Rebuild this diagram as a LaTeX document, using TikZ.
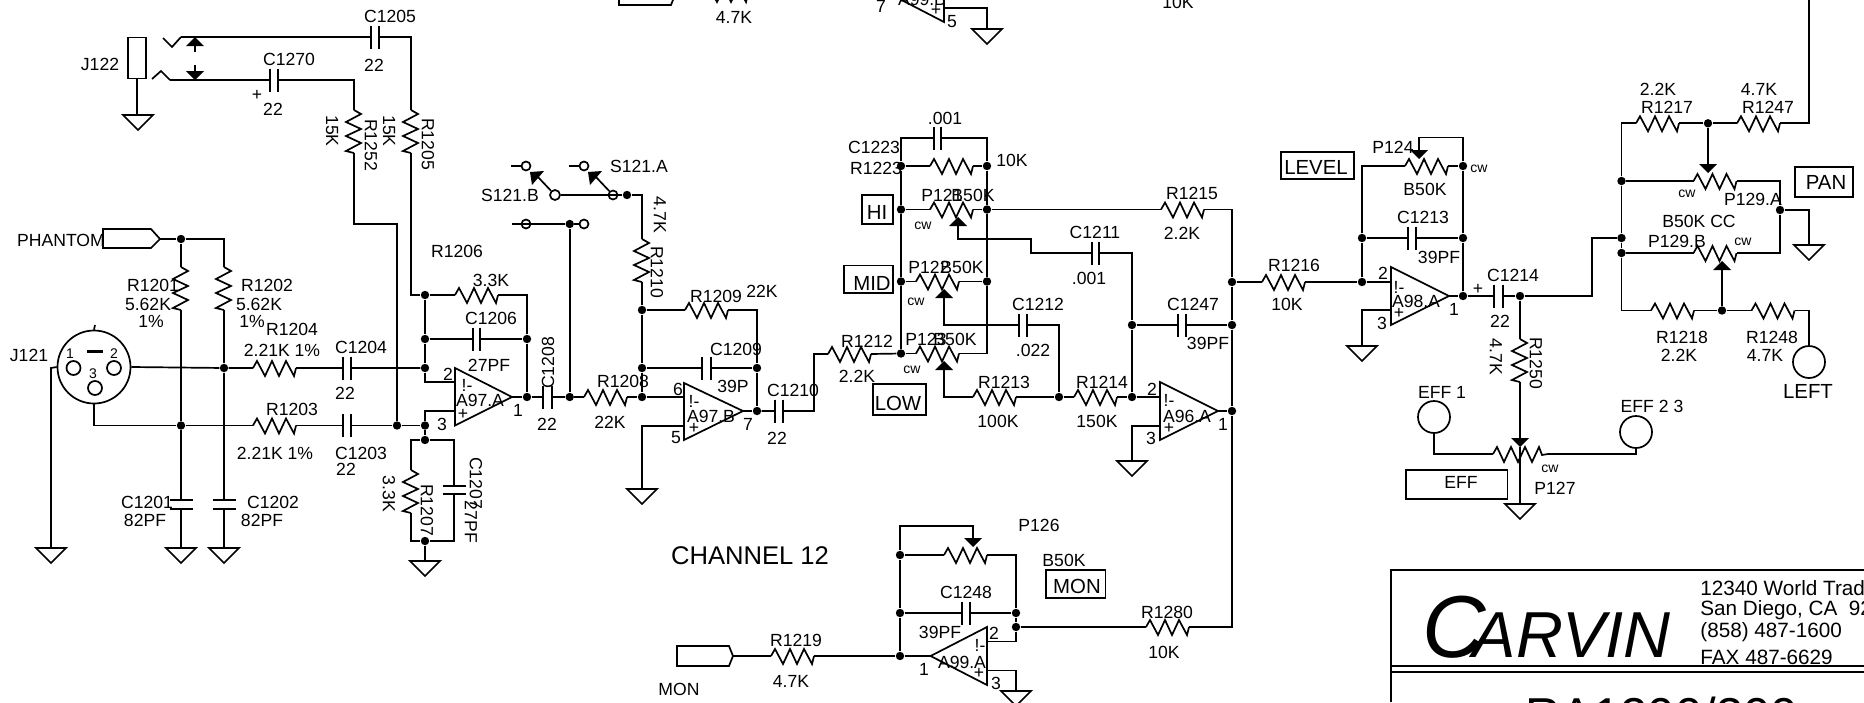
\documentclass[tikz,border=0pt]{standalone}
\usepackage{fontspec}
\setmainfont{Liberation Sans}
\newcounter{tc}
\tikzset{
  x=0.5pt,y=-0.5pt,
  wire/.style={line width=0.85pt,line join=miter},
  jdot/.style={circle,fill=black,draw=none,inner sep=0pt,minimum size=4.2pt},
  opencirc/.style={circle,draw=black,fill=white,line width=0.85pt,inner sep=0pt,minimum size=#1},
  lab/.style={inner sep=0pt,font=\fontsize{8.8}{10}\selectfont},
  smalllab/.style={inner sep=0pt,font=\fontsize{7}{8}\selectfont},
  biglab/.style={inner sep=0pt,font=\fontsize{10.2}{12}\selectfont},
  boxtag/.style={draw=black,line width=0.85pt,inner sep=0pt,anchor=north west},
  opampbody/.style={wire,fill=none},
}
% junction dot
\newcommand\J[3]{\node[jdot] (#1) at (#2,#3) {};}
% label: position, text, extra options
\newcommand\T[4][lab]{\stepcounter{tc}\node[#1] (t\arabic{tc}) at (#2,#3) {#4};}
\newcommand\TR[3]{\stepcounter{tc}\node[lab,rotate=-90] (t\arabic{tc}) at (#1,#2) {#3};}
\newcommand\TL[3]{\stepcounter{tc}\node[lab,rotate=90] (t\arabic{tc}) at (#1,#2) {#3};}
% horizontal resistor: name, left x, y
\newcommand\Rh[3]{\coordinate (#1-a) at (#2,#3);\coordinate (#1-b) at ([xshift=21.5pt]#1-a);
  \draw[wire] (#1-a) -- ++(4,-7) -- ++(8,15) -- ++(7,-15) -- ++(7,15) -- ++(7,-15) -- ++(8,15) -- (#1-b);}
% vertical resistor: name, x, top y
\newcommand\Rv[3]{\coordinate (#1-a) at (#2,#3);\coordinate (#1-b) at ([yshift=-21.5pt]#1-a);
  \draw[wire] (#1-a) -- ++(7,4) -- ++(-15,8) -- ++(15,7) -- ++(-15,7) -- ++(15,7) -- ++(-15,8) -- (#1-b);}
% horizontal-run capacitor: name, x1, x2, y
\newcommand\Ch[4]{\coordinate (#1-a) at (#2,#4);\coordinate (#1-b) at (#3,#4);
  \draw[wire] (#2,#4-11.5) -- (#2,#4+11.5) (#3,#4-11.5) -- (#3,#4+11.5);}
% vertical-run capacitor: name, x, y1, y2, half length
\newcommand\Cv[5]{\coordinate (#1-a) at (#2,#3);\coordinate (#1-b) at (#2,#4);
  \draw[wire] (#2-#5,#3) -- (#2+#5,#3) (#2-#5,#4) -- (#2+#5,#4);}
% ground: name, x, top y
\newcommand\G[3]{\coordinate (#1) at (#2,#3);
  \draw[wire] (#2-15,#3) -- (#2+15,#3) -- (#2,#3+15) -- cycle;}
% wiper triangles: name (base), x, tip y
\newcommand\WU[3]{\coordinate (#1) at (#2,#3+9);\fill (#2,#3) -- (#2+9,#3+9) -- (#2-9,#3+9) -- cycle;}
\newcommand\WD[3]{\coordinate (#1) at (#2,#3-9);\fill (#2,#3) -- (#2+9,#3-9) -- (#2-9,#3-9) -- cycle;}
\begin{document}
\begin{tikzpicture}
\path[use as bounding box] (0,0) rectangle (1864,702);
\clip (0,0) rectangle (1864,702);
\fill[white] (0,0) rectangle (1864,702);

%%% J122 jack
\node[draw=black,line width=0.85pt,minimum width=9pt,minimum height=20.5pt,inner sep=0pt] (J122) at (137,58) {};
\T{100}{64}{J122}
\G{g1}{138}{115}
\draw[wire] (J122.south) -- (J122.south |- g1);
\coordinate (jk1) at (181,37); \coordinate (jk2) at (170,80);
\draw[wire] (163,38) -- (172,47) -- (jk1);
\draw[wire] (152,79) -- (161,71) -- (jk2);
\WU{ar1}{195}{37} \WD{ar2}{195}{80}
\draw[wire] (ar1) -- (195,52) (195,65) -- (ar2);
\Ch{C1205}{371}{379}{37}
\Ch{C1270}{270}{278}{80}
\Rv{R1205}{411}{110}
\Rv{R1252}{354}{110}
\J{a1}{425}{295}
\J{a2}{397}{425.5}
\draw[wire] (jk1) -- (C1205-a) (C1205-b) -| (R1205-a) (R1205-b) |- (a1);
\draw[wire] (jk2) -- (C1270-a) (C1270-b) -| (R1252-a);
\draw[wire] (R1252-b) |- (397,224) -- (a2);
\T{390}{16}{C1205} \T{374}{65}{22} \T{289}{59}{C1270} \T{273}{109}{22} \T{257}{95}{+}
\TR{332}{131}{15K} \TR{371}{145}{R1252} \TR{389}{131}{15K} \TR{428}{144}{R1205}

%%% Phantom
\draw[wire] (103,229) -- (151,229) -- (160,239) -- (151,248) -- (103,248) -- cycle;
\coordinate (phan) at (160,239);
\T{61}{240}{PHANTOM}
\J{b1}{181}{239}
\Rv{R1201}{181}{267}
\Rv{R1202}{224}{267}
\draw[wire] (phan) -- (b1) -- (224,239) -- (R1202-a);
\draw[wire] (b1) -- (R1201-a);
\T{153}{285}{R1201} \T{148}{304}{5.62K} \T{151}{321}{1\%}
\T{267}{285}{R1202} \T{259}{304}{5.62K} \T{252}{321}{1\%}

%%% J121 XLR
\node[circle,draw=black,line width=0.85pt,minimum size=36.5pt,inner sep=0pt] (J121) at (94,367) {};
\draw[wire] (95,325) -- (J121.north);
\node[opencirc=7pt] (pin1) at (73.5,368) {};
\node[opencirc=7pt] (pin2) at (114,368) {};
\node[opencirc=7pt] (pin3) at (95,388) {};
\fill (87,350) rectangle (103,352.5);
\T[smalllab]{70}{354}{1} \T[smalllab]{114}{354}{2} \T[smalllab]{93}{374}{3}
\T{29}{355}{J121}
\G{g2}{51}{548}
\draw[wire] (J121.west) -- (51,368) -- (g2);
\J{b2}{224}{368}
\J{b3}{181}{425.5}
\Rh{R1204}{253}{368}
\Rh{R1203}{253}{425.5}
\Ch{C1204}{343}{351}{368}
\Ch{C1203}{343}{351}{425.5}
\J{a3}{425}{368}
\J{a4}{425}{425.5}
\draw[wire] (J121.east) -- (b2) -- (R1204-a) (R1204-b) -- (C1204-a) (C1204-b) -- (a3);
\draw[wire] (J121.south) |- (b3) -- (R1203-a) (R1203-b) -- (C1203-a) (C1203-b) -- (a2) -- (a4);
\Cv{C1201}{181}{500}{509}{11.5}
\Cv{C1202}{224}{500}{509}{11.5}
\G{g3}{181}{548} \G{g4}{224}{548}
\draw[wire] (R1201-b) -- (b3) -- (C1201-a) (C1201-b) -- (g3);
\draw[wire] (R1202-b) -- (b2) -- (C1202-a) (C1202-b) -- (g4);
\T{292}{329}{R1204} \T{282}{350}{2.21K 1\%} \T{361}{347}{C1204} \T{345}{393}{22}
\T{292}{409}{R1203} \T{275}{453}{2.21K 1\%} \T{361}{453}{C1203} \T{346}{469}{22}
\T{147}{502}{C1201} \T{145}{520}{82PF} \T{273}{502}{C1202} \T{262}{520}{82PF}

%%% A97.A
\coordinate (oa-t) at (455,368); \coordinate (oa-b) at (455,425.5); \coordinate (oa-o) at (512,397);
\draw[opampbody] (oa-t) -- (oa-o) -- (oa-b) -- cycle;
\T{448}{374}{2} \T{442}{424}{3} \T{518}{410}{1} \T{467}{385}{!-} \T{480}{400}{A97.A} \T{463}{414}{+}
\J{a5}{425}{339}
\coordinate (a6) at (527,295);
\J{a7}{527}{339}
\J{a8}{527}{397}
\J{a9}{425}{440}
\Rh{R1206}{455}{295}
\Ch{C1206}{473}{480}{339}
\draw[wire] (a1) -- (a5) -- (a3) -- (425,382) -- (455,382);
\draw[wire] (a4) -- (425,411) -- (455,411);
\draw[wire] (a4) -- (a9);
\draw[wire] (a1) -- (R1206-a) (R1206-b) -- (a6) -- (a7) -- (a8);
\draw[wire] (a5) -- (C1206-a) (C1206-b) -- (a7);
\draw[wire] (oa-o) -- (a8);
\Rv{R1207}{411}{470}
\Cv{C1207}{454}{486}{494}{11.5}
\J{a10}{425}{541}
\G{g5}{425}{561}
\draw[wire] (a9) -| (R1207-a) (R1207-b) |- (a10) -- (g5);
\draw[wire] (a9) -| (C1207-a) (C1207-b) |- (a10);
\T{457}{251}{R1206} \T{491}{280}{3.3K} \T{491}{318}{C1206} \T{489}{365}{27PF}
\TR{389}{494}{3.3K} \TR{427}{510}{R1207} \TR{476}{483}{C1207} \TR{471}{522}{27PF}

%%% C1208, switch, A97.B
\coordinate (C1208-a) at (543,397); \coordinate (C1208-b) at (552,397);
\draw[wire] (543,385.5) -- (543,408.5) (552,385.5) -- (552,408.5);
\J{c1}{569.7}{397}
\Rh{R1208}{584}{397}
\J{c2}{642}{397}
\draw[wire] (a8) -- (C1208-a) (C1208-b) -- (c1) -- (R1208-a) (R1208-b) -- (c2);
\TL{548}{363}{C1208} \T{547}{424}{22} \T{623}{381}{R1208} \T{610}{422}{22K}
% switch
\J{s1}{569.7}{224}
\coordinate (s2) at (512,224);
\draw[wire] (s2) -- (s1);
\node[opencirc=4.5pt,fill=none] (s3) at (526,224) {};
\node[opencirc=4.5pt] (s4) at (584,224) {};
\draw[wire] (s1) -- (s4);
\draw[wire] (s1) -- (c1);
\J{s5}{627}{195}
\node[opencirc=5pt] (sw-b) at (555,195) {};
\node[opencirc=4.5pt,fill=none] (sw-a) at (613,195) {};
\draw[wire] (sw-b) -- (s5);
\node[opencirc=4.5pt] (sa) at (584,166) {};
\node[opencirc=4.5pt] (sb) at (526,166) {};
\coordinate (sa0) at (569,166); \coordinate (sb0) at (511,166);
\draw[wire] (sa0) -- (sa) (sb0) -- (sb);
\draw[wire] (sw-a) -- (595,176) (sw-b) -- (537,176);
\fill (602,171) -- (588,172) -- (590,185) -- cycle;
\fill (544,171) -- (530,172) -- (532,185) -- cycle;
\Rv{R1210}{642}{239}
\J{c3}{642}{310}
\J{c4}{642}{368}
\draw[wire] (s5) -| (R1210-a) (R1210-b) -- (c3) -- (c4) -- (c2);
\T{639}{166}{S121.A} \T{510}{195}{S121.B}
\TR{660}{215}{4.7K} \TR{657}{272}{R1210}
\Rh{R1209}{685}{310}
\Ch{C1209}{702}{711}{368}
\J{c5}{757}{368}
\J{c6}{757}{411}
\draw[wire] (c3) -- (R1209-a) (R1209-b) -| (c5) -- (c6);
\draw[wire] (c4) -- (C1209-a) (C1209-b) -- (c5);
\coordinate (ob-t) at (684,383); \coordinate (ob-b) at (684,440); \coordinate (ob-o) at (743,411);
\draw[opampbody] (ob-t) -- (ob-o) -- (ob-b) -- cycle;
\G{g6}{642}{489}
\draw[wire] (c2) -- (684,397) (684,426) -- (642,426) -- (g6) (ob-o) -- (c6);
\T{716}{296}{R1209} \T{762}{291}{22K} \T{736}{349}{C1209} \T{733}{386}{39P}
\T{678}{389}{6} \T{694}{401}{!-} \T{711}{416}{A97.B} \T{694}{428}{+} \T{676}{438}{5} \T{748}{424}{7}
\Ch{C1210}{775}{783}{411}
\Rh{R1212}{828}{354}
\J{d1}{901}{353.5}
\draw[wire] (c6) -- (C1210-a) (C1210-b) -| (814,354) -- (R1212-a) (R1212-b) -- (d1);
\T{793}{390}{C1210} \T{777}{438}{22} \T{867}{341}{R1212} \T{857}{376}{2.2K}

%%% Tone section
\J{d2}{901}{166}
\J{d3}{901}{209.5}
\J{d4}{901}{281.5}
\J{e2}{987}{166}
\J{e3}{987}{209.5}
\J{e4}{987}{281.5}
\coordinate (e5) at (987,353.5);
\Ch{C1223}{934}{941}{138}
\draw[wire] (d1) -- (d4) -- (d3) -- (d2) |- (C1223-a) (C1223-b) -| (e2) -- (e3) -- (e4) -- (e5);
\Rh{R1223}{930}{166}
\draw[wire] (d2) -- (R1223-a) (R1223-b) -- (e2);
\Rh{P121}{930}{209.5}
\Rh{P122}{916}{281.5}
\Rh{P123}{916}{353.5}
\draw[wire] (d3) -- (P121-a) (P121-b) -- (e3);
\draw[wire] (d4) -- (P122-a) (P122-b) -- (e4);
\draw[wire] (d1) -- (P123-a) (P123-b) -- (e5);
\WU{w1}{958}{217} \WU{w2}{944}{289} \WU{w3}{944}{361}
\Ch{C1211}{1092}{1099}{253}
\J{f1}{1132}{325}
\J{f2}{1132}{397}
\draw[wire] (w1) -- (958,239) -- (1031,239) -- (1031,253) -- (C1211-a) (C1211-b) -| (f1) -- (f2);
\Ch{C1212}{1019}{1027}{325}
\J{f3}{1059}{397}
\draw[wire] (w2) |- (C1212-a) (C1212-b) -| (f3);
\Rh{R1213}{973}{397}
\Rh{R1214}{1074}{397}
\draw[wire] (w3) |- (R1213-a) (R1213-b) -- (f3) -- (R1214-a) (R1214-b) -- (f2);
\Ch{C1247}{1178}{1186}{325}
\Rh{R1215}{1161}{209.5}
\J{h1}{1232}{282}
\J{h2}{1232}{325}
\J{h3}{1232}{411}
\draw[wire] (e3) -- (R1215-a) (R1215-b) -| (h1) -- (h2) -- (h3);
\draw[wire] (f1) -- (C1247-a) (C1247-b) -- (h2);
\coordinate (oc-t) at (1160,382); \coordinate (oc-b) at (1160,440); \coordinate (oc-o) at (1218,411);
\draw[opampbody] (oc-t) -- (oc-o) -- (oc-b) -- cycle;
\G{g7}{1132}{461}
\draw[wire] (f2) -- (1160,397) (1160,426) -- (1132,426) -- (g7) (oc-o) -- (h3);
\T{945}{118}{.001} \T{874}{147}{C1223} \T{876}{168}{R1223} \T{1012}{160}{10K}
\T{942}{195}{P121} \T{973}{195}{B50K}
\T{929}{267}{P122} \T{962}{267}{B50K}
\T{926}{339}{P123} \T{955}{339}{B50K}
\T[smalllab]{923}{226}{cw} \T[smalllab]{916}{302}{cw} \T[smalllab]{912}{370}{cw}
\node[boxtag,minimum width=15.5pt,minimum height=14.5pt] (tagHI) at (861,194) {};
\node[boxtag,minimum width=24.5pt,minimum height=13.75pt] (tagMID) at (843,264.5) {};
\node[boxtag,minimum width=26.5pt,minimum height=15.5pt] (tagLOW) at (872,383) {};
\T[biglab]{877}{212}{HI} \T[biglab]{872}{283}{MID} \T[biglab]{898}{403}{LOW}
\T{1095}{232}{C1211} \T{1089}{278}{.001} \T{1192}{193}{R1215} \T{1182}{233}{2.2K}
\T{1038}{304}{C1212} \T{1033}{350}{.022} \T{1193}{304}{C1247} \T{1208}{343}{39PF}
\T{1004}{382}{R1213} \T{998}{421}{100K} \T{1102}{382}{R1214} \T{1097}{421}{150K}
\T{1152}{389}{2} \T{1169}{400}{!-} \T{1187}{416}{A96.A} \T{1169}{428}{+} \T{1151}{438}{3} \T{1223}{424}{1}

%%% Level section
\Rh{R1216}{1262}{282}
\J{k1}{1362}{282}
\J{k2}{1362}{238}
\J{k3}{1463}{238}
\J{k4}{1463}{166}
\J{k5}{1463}{296}
\J{k6}{1520}{296}
\draw[wire] (h1) -- (R1216-a) (R1216-b) -- (k1) -- (1391,282);
\coordinate (od-t) at (1391,267); \coordinate (od-b) at (1391,325); \coordinate (od-o) at (1449,296);
\draw[opampbody] (od-t) -- (od-o) -- (od-b) -- cycle;
\G{g8}{1362}{346}
\draw[wire] (1391,310) -- (1362,310) -- (g8);
\Ch{C1213}{1408}{1416}{238}
\Ch{C1214}{1494}{1503}{296}
\Rh{P124}{1405}{166}
\WD{w4}{1419}{159}
\draw[wire] (k1) -- (k2) -- (1362,166) -- (P124-a) (P124-b) -- (k4);
\draw[wire] (k2) -- (C1213-a) (C1213-b) -- (k3);
\draw[wire] (k5) -- (k3) -- (k4) -- (1463,137.5) -- (1419,137.5) -- (w4);
\draw[wire] (od-o) -- (k5) -- (C1214-a) (C1214-b) -- (k6);
\node[boxtag,minimum width=36.5pt,minimum height=13.5pt] (tagLEVEL) at (1280,151) {};
\T[biglab]{1316}{167}{LEVEL}
\T{1393}{147}{P124} \T[smalllab]{1479}{169}{cw} \T{1425}{189}{B50K} \T{1423}{217}{C1213} \T{1439}{257}{39PF}
\T{1294}{265}{R1216} \T{1287}{304}{10K}
\T{1383}{273}{2} \T{1399}{287}{!-} \T{1416}{301}{A98.A} \T{1399}{313}{+} \T{1382}{323}{3} \T{1454}{309}{1}
\T{1478}{289}{+} \T{1513}{275}{C1214} \T{1500}{321}{22}
%%% Effects
\Rv{R1250}{1520}{339}
\WD{w5}{1520}{447}
\G{g9}{1520}{504}
\draw[wire] (k6) -- (R1250-a) (R1250-b) -- (w5);
\draw[wire] (1520,447) -- (g9);
\coordinate (P127-a) at (1493,454); \coordinate (P127-b) at (1548,454);
\draw[wire] (P127-a) -- ++(4,-7) -- ++(7,15) -- ++(7,-15) -- ++(7,15) -- ++(7,-15) -- ++(7,15) -- ++(7,-15) -- ++(3,8) -- (P127-b);
\node[opencirc=16pt] (EFF1) at (1434,417) {};
\node[opencirc=16pt] (EFF23) at (1636,432) {};
\draw[wire] (EFF1.south) |- (P127-a);
\draw[wire] (EFF23.south) |- (P127-b);
\TR{1496}{357}{4.7K} \TR{1536}{363}{R1250}
\T{1442}{392}{EFF 1} \T{1652}{406}{EFF 2 3}
\T[smalllab]{1550}{469}{cw} \T{1555}{488}{P127}
\node[boxtag,minimum width=50.75pt,minimum height=14.5pt] (tagEFF) at (1405,469) {};
\T{1461}{482}{EFF}
%%% Pan
\J{m1}{1621.5}{238}
\J{m2}{1621.5}{181}
\J{m3}{1621.5}{253}
\J{m4}{1708}{123.3}
\J{m5}{1722}{310.5}
\draw[wire] (k6) -- (1592,296) -- (1592,238) -- (m1);
\Rh{R1217}{1636}{123.3}
\Rh{R1247}{1737}{123.3}
\coordinate (top) at (1809,0);
\draw[wire] (m2) -- (1621.5,123.3) -- (R1217-a) (R1217-b) -- (m4) -- (R1247-a) (R1247-b) -| (top);
\Rh{P129A}{1693.5}{181}
\Rh{P129B}{1693.5}{253}
\WD{w6}{1708}{173}
\WU{w7}{1722}{261}
\J{m6}{1780}{210}
\G{g10}{1809}{245}
\draw[wire] (m4) -- (w6);
\draw[wire] (m2) -- (P129A-a) (P129A-b) -- (1780,181) -- (m6) -- (1780,253) -- (P129B-b);
\draw[wire] (m3) -- (P129B-a);
\draw[wire] (m6) -| (g10);
\draw[wire] (w7) -- (m5);
\Rh{R1218}{1651}{310.5}
\Rh{R1248}{1751.5}{310.5}
\node[opencirc=16pt] (LEFT) at (1809,362) {};
\draw[wire] (m2) -- (m1) -- (m3) |- (R1218-a) (R1218-b) -- (m5) -- (R1248-a) (R1248-b) -| (LEFT.north);
\T{1658}{89}{2.2K} \T{1667}{107}{R1217} \T{1759}{89}{4.7K} \T{1768}{107}{R1247}
\T[smalllab]{1687}{194}{cw} \T{1753}{199}{P129.A} \T{1699}{221}{B50K CC} \T{1677}{241}{P129.B} \T[smalllab]{1743}{242}{cw}
\node[boxtag,minimum width=29pt,minimum height=15pt] (tagPAN) at (1794,166) {};
\T[biglab]{1826}{182}{PAN}
\T{1682}{337}{R1218} \T{1679}{355}{2.2K} \T{1772}{337}{R1248} \T{1765}{355}{4.7K}
\T[biglab]{1808}{391}{LEFT}

%%% Monitor
\J{n1}{900}{555}
\J{n2}{900}{613}
\J{n3}{900}{656}
\J{n4}{1016}{613}
\J{n5}{1016}{627}
\WD{w8}{973}{547}
\Rh{P126}{944}{555}
\Ch{C1248}{962}{970}{613}
\draw[wire] (n3) -- (n2) -- (n1) -- (900,526) -- (973,526) -- (w8);
\draw[wire] (n1) -- (P126-a) (P126-b) -| (n4) -- (n5) -- (1016,641.6) -- (987,641.6);
\draw[wire] (n2) -- (C1248-a) (C1248-b) -- (n4);
\coordinate (oe-t) at (987,627); \coordinate (oe-b) at (987,685); \coordinate (oe-o) at (930.6,656);
\draw[opampbody] (oe-t) -- (oe-b) -- (oe-o) -- cycle;
\G{g11}{1016}{691}
\draw[wire] (987,670.6) -- (1016,670.6) -- (g11);
\coordinate (monT) at (733,656);
\draw[wire] (677,646) -- (729,646) -- (monT) -- (729,666) -- (677,666) -- cycle;
\Rh{R1219}{771}{656}
\draw[wire] (monT) -- (R1219-a) (R1219-b) -- (n3) -- (oe-o);
\Rh{R1280}{1146}{627}
\draw[wire] (n5) -- (R1280-a) (R1280-b) -| (h3);
\T{1039}{525}{P126} \T[font=\fontsize{12.8}{14}\selectfont,inner sep=0pt]{750}{556}{CHANNEL 12}
\T{1064}{560}{B50K}
\node[boxtag,minimum width=29.75pt,minimum height=14pt] (tagMON) at (1045,569) {};
\T[biglab]{1077}{586}{MON}
\T{966}{592}{C1248} \T{940}{632}{39PF} \T{994}{633}{2} \T{980}{645}{!-} \T{962}{662}{A99.A} \T{979}{673}{+} \T{924}{669}{1} \T{996}{683}{3}
\T{796}{640}{R1219} \T{791}{681}{4.7K} \T{679}{689}{MON} \T{1167}{612}{R1280} \T{1164}{652}{10K}

%%% Cut-off parts along the top edge
\draw[wire] (619,-15) -- (619,5) -- (671,5) -- (675,-5);
\Rh{Rtop}{705}{-6}
\coordinate (of-t) at (944,-36); \coordinate (of-b) at (944,22); \coordinate (of-o) at (888,-7);
\draw[opampbody] (of-t) -- (of-b) -- (of-o) -- cycle;
\G{g12}{987}{29}
\draw[wire] (944,8) -- (987,8) -- (g12);
\T{734}{17}{4.7K} \T{881}{6}{7} \T{922}{-1}{A99.B} \T{936}{10}{+} \T{952}{22}{5} \T{1178}{2}{10K}

%%% Title block
\coordinate (tb1) at (1391,570); \coordinate (tb2) at (1864,570);
\draw[wire] (1391,702) -- (tb1) -- (tb2);
\draw[wire] (1391,666) -- (1864,666) (1391,672) -- (1864,672);
\node[anchor=base west,inner sep=0pt] (carvin) at (1422,657) {\itshape\fontsize{44}{46}\selectfont C\kern-6.5pt\fontsize{32.5}{34}\selectfont ARVIN};
\node[anchor=west,lab,font=\fontsize{10.35}{12}\selectfont] (addr1) at (1700,588) {12340 World Trad};
\node[anchor=west,lab,font=\fontsize{10.35}{12}\selectfont] (addr2) at (1700,610) {San Diego, CA\ \ 92};
\node[anchor=west,lab,font=\fontsize{10.35}{12}\selectfont] (addr3) at (1700,632) {(858) 487-1600};
\node[anchor=west,lab,font=\fontsize{10.35}{12}\selectfont] (addr4) at (1700,657) {FAX 487-6629};
\node[anchor=base west,inner sep=0pt] (title) at (1525,732) {\fontsize{24.5}{26}\selectfont RA1200/300};
\end{tikzpicture}
\end{document}
